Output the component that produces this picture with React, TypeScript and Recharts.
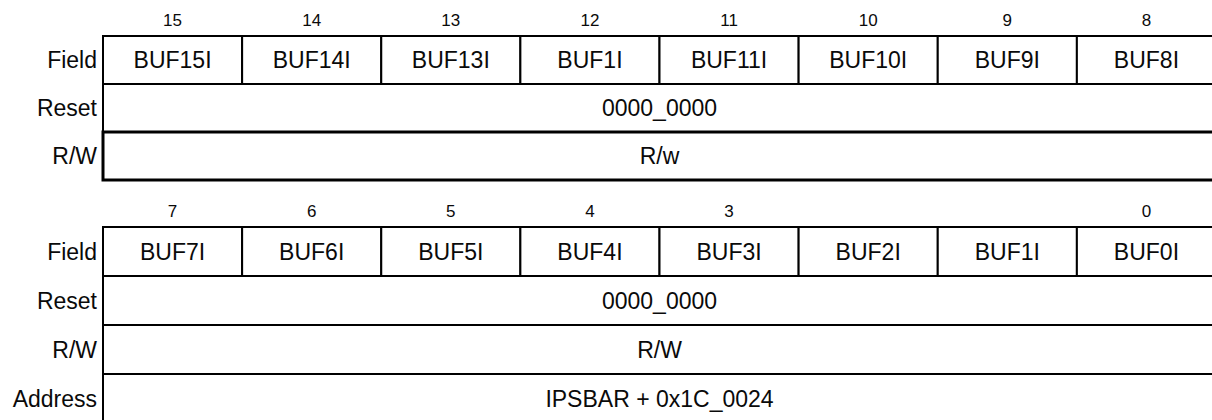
import { Bar, BarChart, Cell, LabelList, XAxis, YAxis } from "recharts";

const FONT = "'Liberation Sans', Arial, sans-serif";
const INK = "#0a0a0a";

// register layout
const TOP_BITS = ["15", "14", "13", "12", "11", "10", "9", "8"];
const TOP_FIELDS = ["BUF15I", "BUF14I", "BUF13I", "BUF1I", "BUF11I", "BUF10I", "BUF9I", "BUF8I"];
const BOTTOM_BITS = ["7", "6", "5", "4", "3", "", "", "0"];
const BOTTOM_FIELDS = ["BUF7I", "BUF6I", "BUF5I", "BUF4I", "BUF3I", "BUF2I", "BUF1I", "BUF0I"];
const ROW_NAMES = ["Field", "Reset", "R/W", "Address"];
const RESET_VALUE = "0000_0000";
const TOP_ACCESS = "R/w";
const BOTTOM_ACCESS = "R/W";
const ADDRESS = "IPSBAR + 0x1C_0024";

const SEGMENTS = TOP_BITS.map((_, i) => i);
const TICKS = SEGMENTS.map((i) => i + 0.5);

function buildRows(fields: string[], access: string, withAddress: boolean) {
  const field: any = { row: ROW_NAMES[0] };
  fields.forEach((f, i) => {
    field[`s${i}`] = 1;
    field[`l${i}`] = f;
  });
  const rows: any[] = [
    field,
    { row: ROW_NAMES[1], s0: fields.length, l0: RESET_VALUE },
    { row: ROW_NAMES[2], s0: fields.length, l0: access },
  ];
  if (withAddress) rows.push({ row: ROW_NAMES[3], s0: fields.length, l0: ADDRESS });
  return rows;
}

function BitTick({ x, payload, bits }: any) {
  return (
    <text x={x} y={26} textAnchor="middle" fontSize={17} fontFamily={FONT} fill={INK}>
      {bits[Math.floor(payload.value)]}
    </text>
  );
}

function RowTick({ y, payload }: any) {
  return (
    <text x={97} y={y} dy="0.36em" textAnchor="end" fontSize={23} fontFamily={FONT} fill={INK}>
      {payload.value}
    </text>
  );
}

function Register({
  rows,
  bits,
  height,
  heavyRow,
}: {
  rows: any[];
  bits: string[];
  height: number;
  heavyRow?: string;
}) {
  return (
    <BarChart
      width={1216}
      height={height}
      data={rows}
      layout="vertical"
      barCategoryGap={0}
      barGap={0}
      margin={{ top: 0, right: 0, bottom: 2, left: 0 }}
    >
      <XAxis
        type="number"
        orientation="top"
        domain={[0, 8]}
        ticks={TICKS}
        height={36}
        axisLine={false}
        tickLine={false}
        interval={0}
        tick={<BitTick bits={bits} />}
      />
      <YAxis
        type="category"
        dataKey="row"
        width={103}
        axisLine={false}
        tickLine={false}
        tick={<RowTick />}
      />
      {SEGMENTS.map((i) => (
        <Bar
          key={i}
          dataKey={`s${i}`}
          stackId="reg"
          fill="#fff"
          stroke="#000"
          strokeWidth={2}
          isAnimationActive={false}
        >
          {rows.map((r) => (
            <Cell key={r.row} strokeWidth={r.row === heavyRow ? 3 : 2} />
          ))}
          <LabelList
            dataKey={`l${i}`}
            position="center"
            fill={INK}
            fontSize={23}
            fontFamily={FONT}
          />
        </Bar>
      ))}
    </BarChart>
  );
}

export default function App() {
  const top = buildRows(TOP_FIELDS, TOP_ACCESS, false);
  const bottom = buildRows(BOTTOM_FIELDS, BOTTOM_ACCESS, true);
  return (
    <div
      style={{
        position: "absolute",
        left: 0,
        top: 0,
        width: 1212,
        height: 420,
        overflow: "hidden",
        background: "#fff",
      }}
    >
      <div style={{ position: "absolute", left: 0, top: 0 }}>
        <Register rows={top} bits={TOP_BITS} height={182} heavyRow="R/W" />
      </div>
      <div style={{ position: "absolute", left: 0, top: 191 }}>
        <Register rows={bottom} bits={BOTTOM_BITS} height={234} />
      </div>
    </div>
  );
}
